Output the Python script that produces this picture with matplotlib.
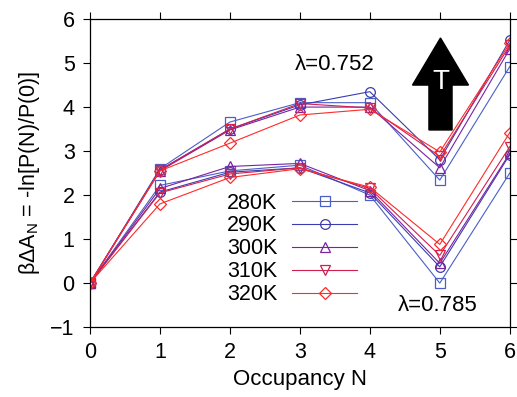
import numpy as np
import matplotlib
matplotlib.use('Agg')
import matplotlib.pyplot as plt
from matplotlib.patches import FancyArrow

plt.rcParams['font.family'] = ['Liberation Sans', 'DejaVu Sans']

occupancy = [0, 1, 2, 3, 4, 5, 6]
temps = ['280K', '290K', '300K', '310K', '320K']
colors = ['#4a5fc8', '#3c3cb0', '#7a22a0', '#d02050', '#ff2a2a']
markers = ['s', 'o', '^', 'v', 'D']

# lambda = 0.752
upper = [
    [0, 2.60, 3.66, 4.10, 4.10, 2.34, 4.92],
    [0, 2.57, 3.50, 4.05, 4.35, 2.80, 5.52],
    [0, 2.55, 3.48, 4.00, 4.00, 2.62, 5.32],
    [0, 2.57, 3.50, 4.08, 3.98, 2.88, 5.40],
    [0, 2.55, 3.18, 3.82, 3.95, 2.98, 5.45],
]
# lambda = 0.785
lower = [
    [0, 2.22, 2.55, 2.68, 2.00, 0.00, 2.50],
    [0, 2.07, 2.52, 2.62, 2.05, 0.37, 2.92],
    [0, 2.15, 2.65, 2.72, 2.10, 0.45, 2.95],
    [0, 2.05, 2.48, 2.62, 2.15, 0.63, 3.10],
    [0, 1.80, 2.40, 2.60, 2.18, 0.88, 3.42],
]

fig = plt.figure(figsize=(5.17, 3.97), dpi=100)
ax = fig.add_axes([0.174, 0.176, 0.812, 0.776])

for i in range(len(temps)):
    ms = 6 if markers[i] == 'D' else 7
    ax.plot(occupancy, upper[i], color=colors[i], marker=markers[i], mfc='none',
            mec=colors[i], ms=ms, lw=0.8, mew=0.9, label=temps[i])
    ax.plot(occupancy, lower[i], color=colors[i], marker=markers[i], mfc='none',
            mec=colors[i], ms=ms, lw=0.8, mew=0.9)

ax.set_xlim(0, 6)
ax.set_ylim(-1, 6)
ax.set_xticks(range(0, 7))
ax.set_yticks(range(-1, 7))
ax.tick_params(direction='out', length=5, width=0.8, labelsize=15.5, pad=6,
               top=True, right=True)
for s in ax.spines.values():
    s.set_linewidth(0.9)

ax.set_xlabel('Occupancy N', fontsize=16, labelpad=4)
ax.set_ylabel(r'βΔA$_\mathregular{N}$ = -ln[P(N)/P(0)]', fontsize=15.5, labelpad=6)

ax.text(3.5, 4.97, 'λ=0.752', fontsize=16, ha='center', va='center')
ax.text(4.97, -0.5, 'λ=0.785', fontsize=16, ha='center', va='center')

arrow = FancyArrow(5.01, 3.48, 0, 2.09, width=0.33, head_width=0.8, head_length=1.07,
                   length_includes_head=True, color='black', zorder=3)
ax.add_patch(arrow)
ax.text(5.01, 4.57, 'T', color='white', fontsize=20, ha='center', va='center', zorder=4)

leg = ax.legend(loc='upper right', bbox_to_anchor=(0.636, 0.437), markerfirst=False,
                frameon=False, fontsize=15.5, handlelength=3.0, labelspacing=0.09,
                handletextpad=0.7, borderaxespad=0, borderpad=0)

fig.savefig('out.png', dpi=100)
